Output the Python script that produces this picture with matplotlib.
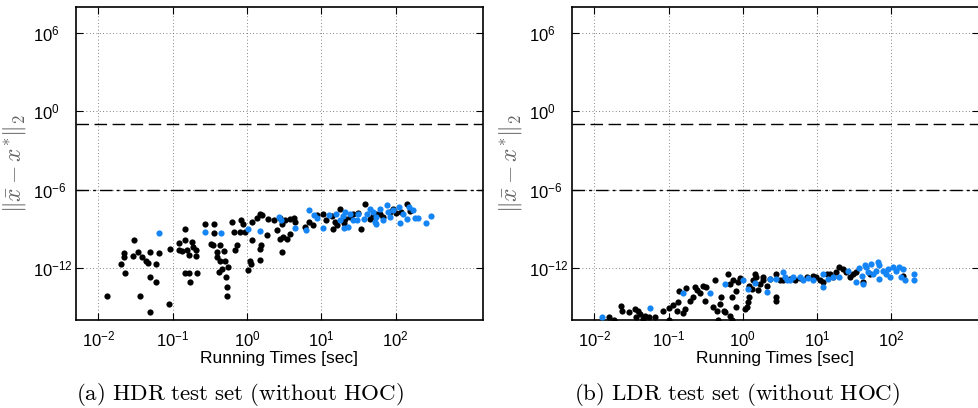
import numpy as np
import matplotlib
matplotlib.use("Agg")
import matplotlib.pyplot as plt

plt.rcParams['font.family'] = ['Liberation Sans', 'DejaVu Sans']
plt.rcParams['mathtext.fontset'] = 'cm'

# Values are read off the log-log chart, stored as log10 exponents
# (a) HDR test set -- black points
hdr_black_logt = [-1.89, -1.44, -1.31, -1.05, -1.31, -1.23, -0.27, -0.27, -0.76, -0.84,
                  -0.78, -0.67, -1.70, -1.64, -1.66, -1.66, -1.52, -1.54, -1.47, -1.41,
                  -1.36, -1.33, -1.30, -1.18, -1.22, -1.03, -0.84, -0.92, -0.84, -0.81,
                  -0.74, -0.72, -0.68, -0.92, -0.87, -0.78, -0.68, -0.57, -0.45, -0.44,
                  -0.49, -0.46, -0.36, -0.40, -0.31, -0.40, -0.36, -0.29, -0.34, -0.38,
                  -0.25, -0.28, -0.20, -0.18, -0.13, -0.16, -0.08, -0.05, -0.09, -0.02,
                  0.07, 0.13, 0.18, 0.20, 0.07, 0.04, 0.05, 0.01, 0.17, 0.18,
                  0.19, 0.27, 0.29, 0.36, 0.45, 0.40, 0.47, 0.51, 0.58, 0.63,
                  0.65, 0.48, 0.54, 0.58, 0.45, 0.47, 0.78, 0.83, 0.89, 0.94,
                  1.03, 1.07, 1.14, 1.19, 1.25, 1.32, 1.39, 1.43, 1.49, 1.54,
                  1.59, 1.66, 1.70, 1.74, 1.79, 1.83, 1.92, 1.97, 2.01, 2.08,
                  2.16, 2.19, 1.16, 1.21, 1.30]
hdr_black_logerr = [-14.15, -14.15, -15.41, -14.77, -12.67, -13.08, -14.15, -13.44, -13.08, -12.36,
                    -12.36, -12.36, -11.74, -12.36, -11.18, -10.87, -9.90, -11.13, -10.79, -11.18,
                    -11.44, -11.64, -10.79, -10.85, -11.74, -10.59, -9.05, -10.10, -9.90, -10.67,
                    -10.03, -10.41, -10.67, -10.67, -10.74, -11.05, -11.13, -8.62, -8.62, -9.31,
                    -10.15, -10.28, -10.28, -10.79, -10.74, -11.18, -11.44, -11.44, -12.08, -12.33,
                    -11.95, -12.67, -8.49, -9.26, -10.28, -10.67, -8.36, -8.67, -9.26, -9.26,
                    -8.49, -8.15, -7.85, -7.92, -9.90, -11.44, -11.69, -12.15, -11.38, -10.54,
                    -10.28, -9.51, -8.23, -8.31, -8.15, -9.08, -8.62, -8.36, -8.23, -8.15,
                    -8.49, -9.64, -9.77, -9.38, -9.77, -10.77, -8.87, -8.49, -8.74, -7.97,
                    -7.85, -8.31, -8.05, -8.49, -7.51, -8.23, -8.10, -7.90, -7.79, -9.00,
                    -7.08, -8.23, -8.05, -7.85, -7.90, -8.10, -7.72, -7.46, -7.79, -7.72,
                    -7.08, -7.64, -9.00, -8.74, -8.56]
# (a) HDR test set -- blue points
hdr_blue_logt = [-1.18, -0.57, -0.35, 0.01, 0.17, 0.43, 0.46, 0.65, 0.79, 0.83,
                 0.90, 0.94, 1.02, 1.10, 1.20, 1.25, 1.29, 1.32, 1.36, 1.39,
                 1.48, 1.50, 1.57, 1.61, 1.66, 1.70, 1.74, 1.79, 1.83, 1.88,
                 1.90, 1.92, 1.97, 2.04, 2.06, 2.10, 2.15, 2.18, 2.23, 2.26,
                 2.30, 2.41, 2.48, 1.74, 1.72, 1.43, 1.30]
hdr_blue_logerr = [-9.31, -9.26, -9.31, -9.05, -9.18, -8.10, -8.36, -8.92, -9.13, -7.54,
                   -7.92, -8.18, -8.92, -7.97, -7.85, -8.36, -8.05, -7.72, -8.87, -7.85,
                   -8.36, -7.85, -8.23, -7.85, -7.46, -7.72, -8.62, -7.46, -8.36, -7.21,
                   -7.72, -8.10, -7.54, -7.33, -8.56, -7.85, -8.23, -7.33, -7.54, -8.15,
                   -8.15, -8.54, -8.03, -8.10, -8.49, -8.31, -8.92]

# (b) LDR test set -- black points
ldr_black_logt = [-1.80, -1.74, -1.64, -1.63, -1.54, -1.45, -1.44, -1.41, -1.39, -1.35,
                  -1.32, -1.27, -1.18, -1.07, -1.00, -0.99, -0.94, -0.89, -0.87, -0.86,
                  -0.81, -0.78, -0.76, -0.71, -0.67, -0.65, -0.62, -0.58, -0.53, -0.51,
                  -0.49, -0.40, -0.38, -0.35, -0.33, -0.31, -0.29, -0.26, -0.24, -0.20,
                  -0.17, -0.15, -0.14, -0.17, -0.13, -0.09, -0.09, -0.06, -0.04, 0.03,
                  0.05, 0.07, 0.09, 0.09, 0.12, 0.14, 0.16, 0.18, 0.21, 0.23,
                  0.27, 0.32, 0.36, 0.45, 0.45, 0.45, 0.27, 0.50, 0.54, 0.63,
                  0.70, 0.77, 0.86, 0.95, 0.99, 1.04, 1.08, 1.13, 1.17, 1.22,
                  1.26, 1.30, 1.35, 1.39, 1.44, 1.48, 1.53, 1.62, 1.71, 2.16]
ldr_black_logerr = [-15.74, -16.00, -14.90, -15.28, -15.41, -15.15, -15.74, -15.28, -15.54, -15.92,
                    -15.67, -15.74, -15.74, -15.28, -15.08, -16.00, -14.82, -15.28, -14.64, -13.79,
                    -15.49, -15.15, -13.54, -14.51, -14.26, -13.44, -13.69, -13.95, -13.36, -14.51,
                    -13.49, -15.03, -12.92, -15.28, -16.00, -14.77, -14.26, -15.28, -15.41, -12.51,
                    -13.23, -14.21, -16.00, -15.67, -12.92, -13.74, -15.03, -13.10, -12.77, -15.15,
                    -14.97, -14.64, -14.26, -13.36, -13.62, -12.97, -12.51, -12.72, -13.69, -13.23,
                    -12.97, -13.36, -12.85, -12.46, -14.26, -14.56, -12.72, -12.97, -12.92, -12.85,
                    -12.97, -12.77, -12.72, -12.59, -12.72, -12.97, -13.10, -12.46, -12.51, -12.72,
                    -12.33, -11.95, -12.08, -12.33, -12.72, -12.46, -12.33, -13.10, -12.46, -12.59]
# (b) LDR test set -- blue points
ldr_blue_logt = [-1.90, -1.25, -0.80, -0.44, -0.24, 0.00, 0.07, 0.16, 0.32, 0.36,
                 0.45, 0.54, 0.57, 0.59, 0.63, 0.68, 0.77, 0.81, 0.88, 0.95,
                 1.08, 1.08, 1.15, 1.22, 1.30, 1.42, 1.53, 1.57, 1.60, 1.62,
                 1.66, 1.69, 1.73, 1.75, 1.82, 1.84, 1.84, 1.89, 1.93, 1.96,
                 1.98, 2.02, 2.07, 2.11, 2.13, 2.16, 2.18, 2.31, 2.31, 1.80,
                 1.65]
ldr_blue_logerr = [-15.74, -15.10, -13.90, -13.95, -13.23, -12.97, -13.62, -13.15, -13.87, -12.85,
                   -12.85, -12.33, -12.72, -12.97, -12.92, -12.72, -12.72, -12.92, -12.77, -12.92,
                   -12.46, -13.49, -12.85, -12.72, -12.72, -12.21, -13.10, -12.00, -12.59, -13.23,
                   -11.95, -12.33, -11.69, -12.46, -11.56, -11.82, -12.85, -12.21, -12.46, -12.08,
                   -12.72, -11.95, -12.21, -11.95, -12.72, -12.08, -12.92, -12.46, -12.92, -12.21,
                   -11.82]

# Reference levels (horizontal lines)
dashed_level = 1e-1
dashdot_level = 1e-6

captions = [r'$\mathrm{(a)\ HDR\ test\ set\ (without\ HOC)}$',
            r'$\mathrm{(b)\ LDR\ test\ set\ (without\ HOC)}$']
black_sets = [(hdr_black_logt, hdr_black_logerr), (ldr_black_logt, ldr_black_logerr)]
blue_sets = [(hdr_blue_logt, hdr_blue_logerr), (ldr_blue_logt, ldr_blue_logerr)]

BLUE = '#1585f5'

fig = plt.figure(figsize=(9.79, 4.08), dpi=100)
axes = [fig.add_axes([0.0776, 0.2157, 0.4157, 0.7672]),
        fig.add_axes([0.5843, 0.2157, 0.4152, 0.7672])]

for i, ax in enumerate(axes):
    bx, by = black_sets[i]
    ux, uy = blue_sets[i]
    ax.scatter(10 ** np.array(bx), 10 ** np.array(by), s=20, color='black', linewidths=0, zorder=3)
    ax.scatter(10 ** np.array(ux), 10 ** np.array(uy), s=20, color=BLUE, linewidths=0, zorder=3)

    ax.axhline(dashed_level, color='black', lw=1.0, dashes=(9, 4), zorder=2)
    ax.axhline(dashdot_level, color='black', lw=1.0, dashes=(9, 3, 2, 3), zorder=2)

    ax.set_xscale('log')
    ax.set_yscale('log')
    ax.set_xlim(5e-3, 1.5e3)
    ax.set_ylim(1e-16, 1e8)
    ax.set_xticks([1e-2, 1e-1, 1e0, 1e1, 1e2])
    ax.set_yticks([1e-12, 1e-6, 1e0, 1e6])
    ax.minorticks_off()

    ax.grid(True, which='major', color='0.35', lw=0.6, dashes=(1, 3))
    ax.tick_params(axis='both', which='major', direction='in', length=5, width=0.8,
                   top=True, right=True, labelsize=12)
    # MATLAB-style: the "10" of each y label lines up on the left
    ax.tick_params(axis='y', pad=31)
    for lab in ax.get_yticklabels():
        lab.set_horizontalalignment('left')
    ax.tick_params(axis='x', pad=7)
    for sp in ax.spines.values():
        sp.set_linewidth(1.2)

    ax.set_xlabel('Running Times [sec]', fontsize=12.5, labelpad=1)
    ax.set_ylabel(r'$\|\bar{x} - x^{*}\|_2$', fontsize=17, color='0.4')
    ax.yaxis.set_label_coords(-0.118, 0.5)

fig.text(240 / 979, 1 - 395 / 408, captions[0], fontsize=16.6, ha='center', va='center')
fig.text(737 / 979, 1 - 395 / 408, captions[1], fontsize=16.6, ha='center', va='center')

plt.savefig('out.png', dpi=100, facecolor='white')
